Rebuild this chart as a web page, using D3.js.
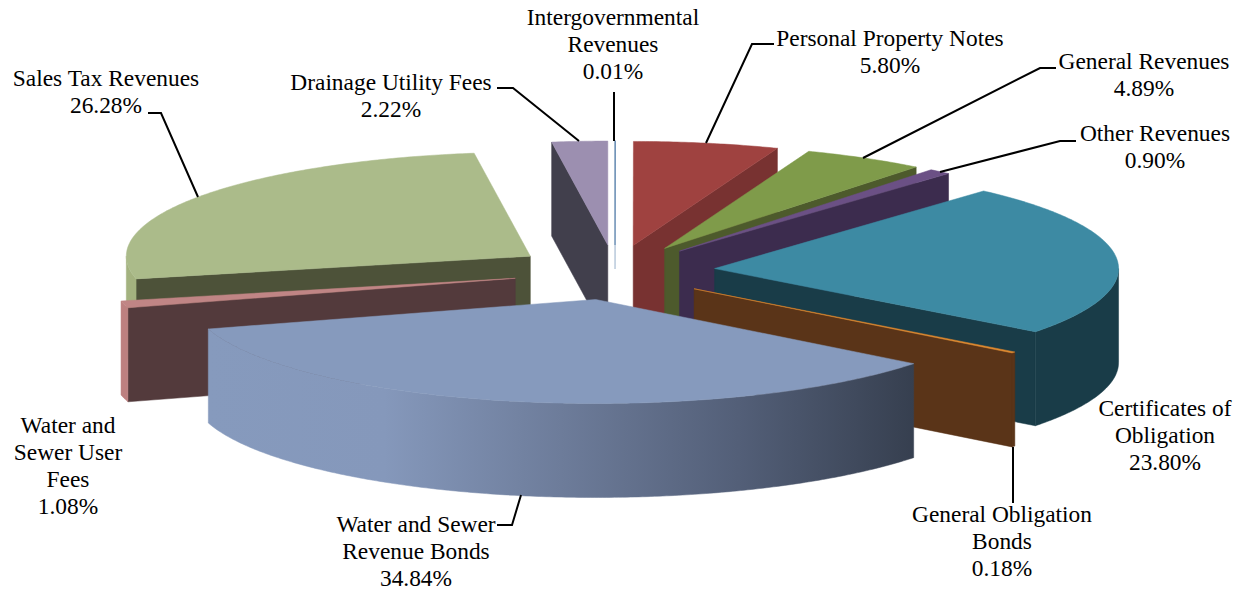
<!DOCTYPE html>
<html>
<head>
<meta charset="utf-8">
<style>
html,body{margin:0;padding:0;background:#fff;}
svg{display:block;}
text{font-family:"Liberation Serif","Times New Roman",serif;font-size:23.4px;fill:#000;}
</style>
<script src="https://cdn.jsdelivr.net/npm/d3@7/dist/d3.min.js"></script>
</head>
<body>
<svg id="chart" width="1245" height="592"></svg>
<script>
// ---- data (clockwise from 12 o'clock) ----
const categories = ["Intergovernmental Revenues","Personal Property Notes","General Revenues","Other Revenues","Certificates of Obligation","General Obligation Bonds","Water and Sewer Revenue Bonds","Water and Sewer User Fees","Sales Tax Revenues","Drainage Utility Fees"];
const shares = [0.01,5.80,4.89,0.90,23.80,0.18,34.84,1.08,26.28,2.22];
const topColors = ["#6b8fb5","#9f4240","#7f9b4a","#6b5085","#3d8aa3","#e08a30","#869abd","#c08585","#abbb8a","#9c8fb0"];
const radialColors = ["#a9bdd3","#783231","#4d5a2c","#3c2c4e","#193c48","#5a3418","#55647f","#533a3c","#4d5239","#413f4c"];
const outerColors = ["#a9bdd3","#783231","#4d5a2c","#3c2c4e","#193c48","#5a3418","url(#blueWall)","#bd8080","#a3b27f","#413f4c"];
const labelLines = [["Intergovernmental","Revenues","0.01%"],["Personal Property Notes","5.80%"],["General Revenues","4.89%"],["Other Revenues","0.90%"],["Certificates of","Obligation","23.80%"],["General Obligation","Bonds","0.18%"],["Water and Sewer","Revenue Bonds","34.84%"],["Water and","Sewer User","Fees","1.08%"],["Sales Tax Revenues","26.28%"],["Drainage Utility Fees","2.22%"]];

// ---- layout ----
const cx = 615, cy = 271, rx = 404, ry = 104, depth = 94, sliverDepth = 24;
const explodeRight = 100, explodeLeft = 103, explodeBack = 26, explodeFront = 29;
const labelX = [613,890,1144,1155,1165,1002,416,68,106,391];
const labelY = [25,46,69,141,416,522,532,433,86,90];
const lineStep = 27;
const leaders = [
  [[614,92],[614,141]],
  [[774,44],[752,44],[706,143]],
  [[1056,68],[1040,68],[863,158]],
  [[1076,141],[1060,141],[940,172]],
  null,
  [[1013,447],[1013,503]],
  [[497,525],[512,525],[521,495]],
  null,
  [[148,113],[161,113],[198,197]],
  [[497,88],[513,88],[579,141]]
];

const svg = d3.select("#chart");
const defs = svg.append("defs");
const grad = defs.append("linearGradient").attr("id","blueWall").attr("gradientUnits","userSpaceOnUse")
  .attr("x1",207).attr("x2",915).attr("y1",0).attr("y2",0);
[[0,"#869abd"],[0.25,"#8598bb"],[0.5,"#6d7c9a"],[0.75,"#535f78"],[1,"#363f4f"]].forEach(s=>grad.append("stop").attr("offset",s[0]).attr("stop-color",s[1]));

const pie = d3.pie().sort(null).value(d=>d.share).startAngle(0).endAngle(2*Math.PI);
const rows = categories.map((c,i)=>({name:c,share:shares[i],i}));
const unit = d3.scaleLinear().domain([-1,1]);
const sx = unit.copy().range([-rx,rx]);
const sy = unit.copy().range([ry,-ry]); // +1 (cos) is the back of the pie
const ox = d3.scaleLinear().domain([-1,0,1]).range([-explodeLeft,0,explodeRight]);
const oy = d3.scaleLinear().domain([-1,0,1]).range([explodeFront,0,-explodeBack]);
const line = d3.line();

const slices = pie(rows).map(a=>{
  const mid = (a.startAngle+a.endAngle)/2;
  const apex = [cx+ox(Math.sin(mid)), cy+oy(Math.cos(mid))];
  return {...a, mid, apex, i:a.data.i};
}).sort((p,q)=>p.apex[1]-q.apex[1]);

function rim(s,t){ return [s.apex[0]+sx(Math.sin(t)), s.apex[1]+sy(Math.cos(t))]; }
function arcPts(s,t0,t1){
  const n = Math.max(2,Math.ceil((t1-t0)/0.01));
  return d3.range(n+1).map(k=>rim(s,t0+(t1-t0)*k/n));
}
function wall(pts,h){ return pts.concat(pts.slice().reverse().map(p=>[p[0],p[1]+h])); }

const g = svg.append("g");
slices.forEach(s=>{
  const sliver = s.data.share < 0.1;
  const h = sliver ? sliverDepth : depth;
  const sw = sliver ? 1.2 : 0.5;
  const draw = (pts,color)=>g.append("path").attr("d",line(pts)+"Z").attr("fill",color).attr("stroke",color).attr("stroke-width",sw);
  const t0 = s.startAngle, t1 = s.endAngle;
  if (Math.sin(t0) < 0) draw(wall([s.apex,rim(s,t0)],h),radialColors[s.i]);
  if (Math.sin(t1) > 0) draw(wall([rim(s,t1),s.apex],h),radialColors[s.i]);
  const a = Math.max(t0,Math.PI/2), b = Math.min(t1,3*Math.PI/2);
  if (b > a) draw(wall(arcPts(s,a,b),h),outerColors[s.i]);
  draw([s.apex].concat(arcPts(s,t0,t1)),topColors[s.i]);
});

leaders.forEach(l=>{ if(l) svg.append("path").attr("d",line(l)).attr("fill","none").attr("stroke","#000").attr("stroke-width",2); });

labelLines.forEach((lines,i)=>{
  const t = svg.append("text").attr("text-anchor","middle");
  lines.forEach((l,k)=>t.append("tspan").attr("x",labelX[i]).attr("y",labelY[i]+k*lineStep).text(l));
});
</script>
</body>
</html>
